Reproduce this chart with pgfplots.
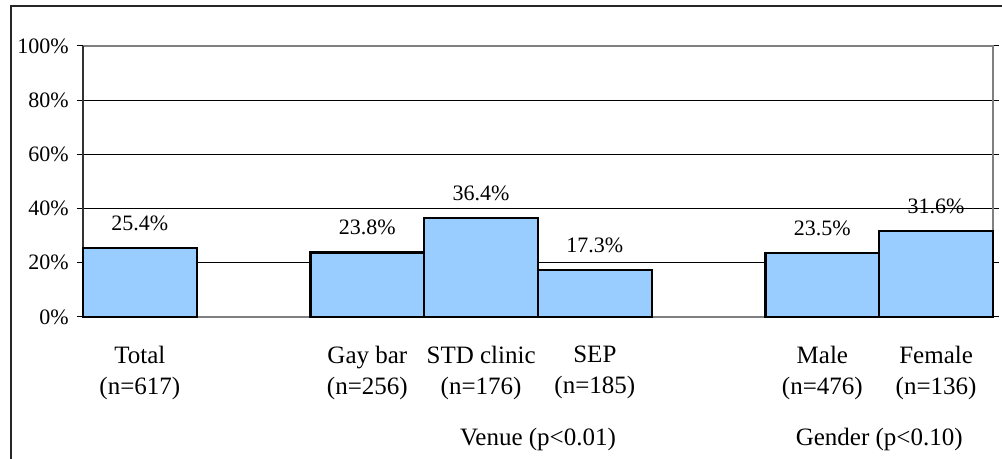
\documentclass[border=0pt]{standalone}
\usepackage{fontspec}
\setmainfont{Liberation Serif}
\usepackage{pgfplots}
\pgfplotsset{compat=1.18}
\definecolor{barblue}{HTML}{99CCFF}
\begin{document}
\begin{tikzpicture}
\path[use as bounding box] (0,0) rectangle (501pt,229.5pt);
\draw[line width=0.7pt, black!85] (5.5pt,0) -- (5.5pt,226.5pt) -- (501pt,226.5pt);
\begin{axis}[
 at={(41.5pt,71pt)}, anchor=south west,
 scale only axis, width=455pt, height=135.5pt,
 xmin=-0.5, xmax=7.5, ymin=0, ymax=100,
 axis line style={draw=none},
 ybar, bar width=1,
 xtick={0,2,3,4,6,7},
 xticklabels={{Total\\(n=617)},{Gay bar\\(n=256)},{STD clinic\\(n=176)},{SEP\\(n=185)},{Male\\(n=476)},{Female\\(n=136)}},
 xticklabel style={align=center, font=\fontsize{12.5}{15.5}\selectfont, inner sep=0pt, yshift=-11.5pt, anchor=north},
 major x tick style={draw=none},
 ytick={0,20,40,60,80,100},
 yticklabels={0\%,20\%,40\%,60\%,80\%,100\%},
 yticklabel style={font=\fontsize{11}{13}\selectfont, inner sep=0pt, xshift=-4pt, anchor=east},
 tick align=outside, major tick length=3pt,
 major y tick style={black, line width=0.5pt},
 ymajorgrids, major grid style={black, line width=0.5pt},
 point meta=explicit symbolic,
 nodes near coords,
 nodes near coords style={font=\fontsize{11}{13}\selectfont, anchor=base, inner sep=0pt, yshift=9pt},
 clip=false,
]
\draw[gray, line width=1pt] (rel axis cs:0,0) -- (rel axis cs:1,0) (rel axis cs:0,1) -- (rel axis cs:1,1) -- (rel axis cs:1,0);
\draw[black!80, line width=1pt] (rel axis cs:0,0) -- (rel axis cs:0,1);
\addplot[fill=barblue, draw=black, line width=1.1pt] coordinates {(0,25.4)[25.4\%] (2,23.8)[23.8\%] (3,36.4)[36.4\%] (4,17.3)[17.3\%] (6,23.5)[23.5\%] (7,31.6)[31.6\%]};
\node[font=\fontsize{12.5}{15.5}\selectfont, anchor=base] at ([yshift=-64.5pt]axis cs:3.5,0) {Venue (p<0.01)};
\node[font=\fontsize{12.5}{15.5}\selectfont, anchor=base] at ([yshift=-64.5pt]axis cs:6.5,0) {Gender (p<0.10)};
\end{axis}
\end{tikzpicture}
\end{document}
